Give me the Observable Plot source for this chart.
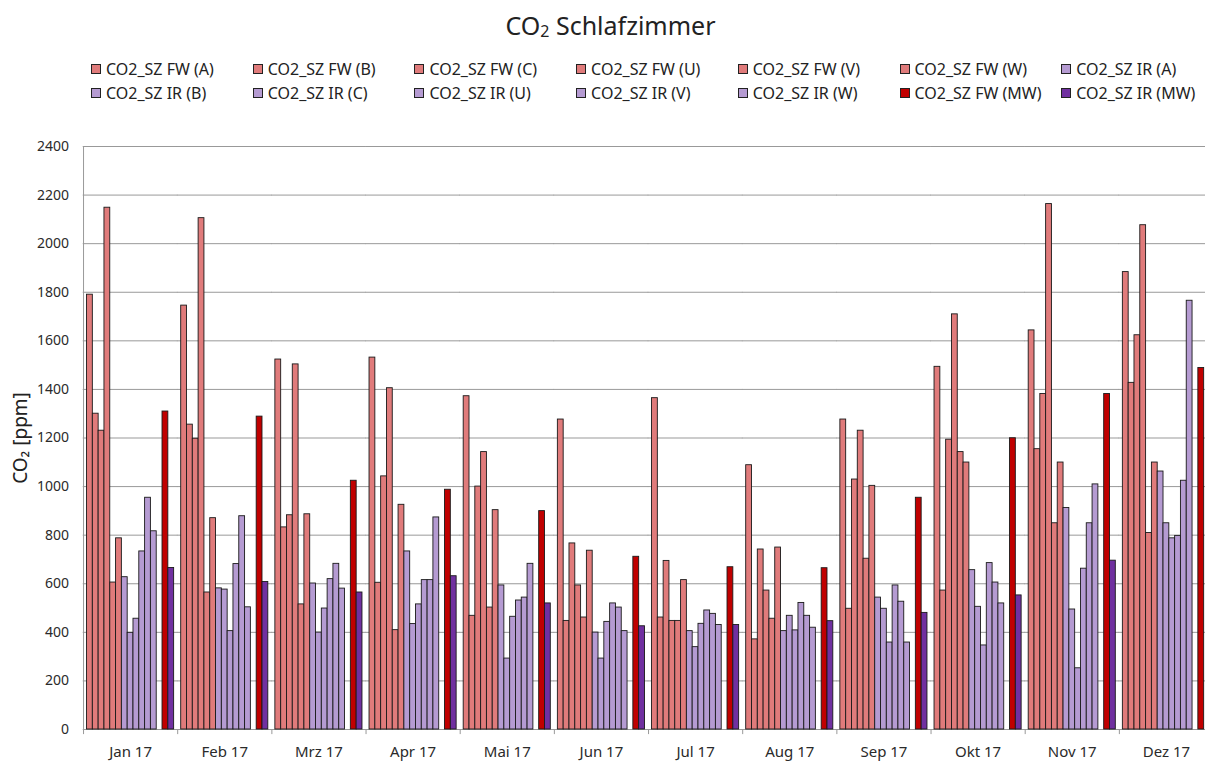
<!DOCTYPE html>
<html>
<head>
<meta charset="utf-8">
<script src="https://cdn.jsdelivr.net/npm/d3@7"></script>
<script src="https://cdn.jsdelivr.net/npm/@observablehq/plot@0.6"></script>
<style>
  html, body { margin: 0; padding: 0; background: #fff; overflow: hidden; width: 1205px; height: 761px; }
  body { font-family: "Noto Sans", "Open Sans", sans-serif; color: #222; position: relative; }
  #title { position: absolute; left: 8px; top: 8px; width: 1205px; text-align: center; font-size: 25px; }
  #title sub { font-size: 16px; vertical-align: -2px; }
  .lg { position: absolute; display: flex; align-items: center; font-size: 16px; white-space: nowrap; }
  .lg .sw { width: 8px; height: 8px; border: 1px solid #222; margin-right: 5px; }
  #chart { position: absolute; left: 0; top: 120px; width: 1222px; }
</style>
</head>
<body>
<div id="title">CO<sub>2</sub> Schlafzimmer</div>
<div id="legend"></div>
<div id="chart"></div>
<script>
const months = ["Jan 17", "Feb 17", "Mrz 17", "Apr 17", "Mai 17", "Jun 17", "Jul 17", "Aug 17", "Sep 17", "Okt 17", "Nov 17", "Dez 17"];

const seriesNames = ["CO2_SZ FW (A)", "CO2_SZ FW (B)", "CO2_SZ FW (C)", "CO2_SZ FW (U)", "CO2_SZ FW (V)", "CO2_SZ FW (W)",
  "CO2_SZ IR (A)", "CO2_SZ IR (B)", "CO2_SZ IR (C)", "CO2_SZ IR (U)", "CO2_SZ IR (V)", "CO2_SZ IR (W)",
  "CO2_SZ FW (MW)", "CO2_SZ IR (MW)"];

const fwA  = [1790, 1745, 1523, 1531, 1372, 1276, 1364, 1088, 1276, 1493, 1643, 1883];
const fwB  = [1300, 1255,  832,  604,  468,  447,  461,  371,  497,  572, 1154, 1427];
const fwC  = [1230, 1197,  882, 1042, 1000,  766,  694,  741, 1029, 1193, 1381, 1623];
const fwU  = [2148, 2105, 1503, 1405, 1142,  593,  447,  572, 1230, 1709, 2163, 2076];
const fwV  = [ 605,  564,  515,  409,  502,  461,  447,  456,  703, 1142,  849,  809];
const fwW  = [ 787,  870,  886,  925,  903,  736,  615,  749, 1003, 1099, 1099, 1099];
const irA  = [ 627,  581,  601,  733,  593,  399,  405,  405,  543,  656,  912, 1062];
const irB  = [ 398,  576,  399,  434,  292,  292,  339,  468,  497,  505,  494,  849];
const irC  = [ 456,  405,  498,  515,  464,  443,  435,  408,  358,  346,  252,  787];
const irU  = [ 733,  681,  619,  615,  531,  519,  490,  521,  593,  685,  662,  797];
const irV  = [ 954,  878,  682,  615,  543,  502,  476,  468,  526,  605,  849, 1024];
const irW  = [ 816,  503,  580,  873,  682,  405,  430,  419,  358,  519, 1009, 1765];
const fwMW = [1309, 1288, 1024,  987,  899,  711,  668,  664,  954, 1199, 1381, 1488];
const irMW = [ 665,  607,  564,  631,  519,  425,  430,  446,  480,  552,  695, null]; // Dez bar cut off in the picture

const seriesValues = [fwA, fwB, fwC, fwU, fwV, fwW, irA, irB, irC, irU, irV, irW, fwMW, irMW];
const seriesColors = ["#e07b7b", "#e07b7b", "#e07b7b", "#e07b7b", "#e07b7b", "#e07b7b",
  "#b59bd2", "#b59bd2", "#b59bd2", "#b59bd2", "#b59bd2", "#b59bd2", "#c00000", "#7030a0"];
const yTicks = [0, 200, 400, 600, 800, 1000, 1200, 1400, 1600, 1800, 2000, 2200, 2400];

// slot order inside each month (empty slot before the two MW bars)
const slotDomain = [...seriesNames.slice(0, 12), "gap", ...seriesNames.slice(12)];

const table = [];
seriesNames.forEach((s, i) => {
  months.forEach((m, j) => {
    if (seriesValues[i][j] != null) table.push({month: m, series: s, value: seriesValues[i][j]});
  });
});

// legend
const legend = document.getElementById("legend");
seriesNames.forEach((s, i) => {
  const row = Math.floor(i / 7), col = i % 7;
  const el = document.createElement("div");
  el.className = "lg";
  el.style.left = (91 + col * 161.7) + "px";
  el.style.top = (row === 0 ? 58 : 82) + "px";
  el.innerHTML = `<div class="sw" style="background:${seriesColors[i]}"></div><span>${s}</span>`;
  legend.appendChild(el);
});

const plot = Plot.plot({
  width: 1222,
  height: 641,
  marginTop: 26,
  marginBottom: 32,
  marginLeft: 83,
  marginRight: 9,
  style: {fontFamily: "'Noto Sans', 'Open Sans', sans-serif", fontSize: "14px", color: "#2a2a2a", background: "#fff", maxWidth: "none"},
  fx: {domain: months, paddingInner: 0.075, paddingOuter: 0.0375, round: false},
  x: {domain: slotDomain, padding: 0, round: false, axis: null},
  y: {domain: [0, 2400]},
  color: {domain: seriesNames, range: seriesColors},
  marks: [
    Plot.ruleY(yTicks, {stroke: "#999", strokeWidth: 1, insetLeft: -3.8, insetRight: -3.8}),
    Plot.barY(table, {fx: "month", x: "series", y: "value", fill: "series", stroke: "#1a1a1a", strokeWidth: 0.9}),
    Plot.ruleX(months, {fx: d => d, x: () => seriesNames[0], y1: 0, y2: -21, dx: -6.4, stroke: "#999"}),
    Plot.ruleX(months.slice(0, 1), {fx: d => d, x: () => seriesNames[0], y1: 0, y2: 2400, dx: -6.4, stroke: "#999"}),
    Plot.axisY({ticks: yTicks, tickFormat: d => String(d), tickSize: 0, tickPadding: 18, fontSize: 14, label: null}),
    Plot.axisFx({anchor: "bottom", tickSize: 0, tickPadding: 17, fontSize: 15, label: null}),
    Plot.text(["CO₂ [ppm]"], {fx: () => months[0], x: () => seriesNames[0], frameAnchor: "middle", text: d => d, rotate: -90, dx: -69, fontSize: 19, fill: "#222"})
  ]
});
document.getElementById("chart").appendChild(plot);
</script>
</body>
</html>
